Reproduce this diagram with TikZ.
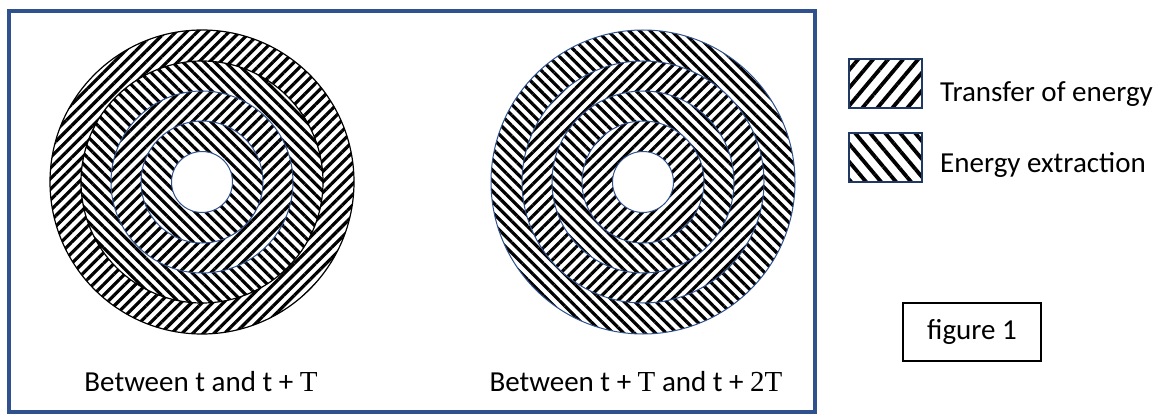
\documentclass[tikz,border=0pt]{standalone}
\usepackage{fontspec}
\setmainfont{Carlito}
\newfontfamily\serifT{Liberation Serif}
\usetikzlibrary{patterns.meta}
\definecolor{officeblue}{HTML}{2F528F}
\definecolor{navy}{HTML}{203864}
\tikzset{
  hatchNE/.style={pattern={Lines[angle=45,distance=7.5pt,line width=3.2pt]},pattern color=black},
  hatchNW/.style={pattern={Lines[angle=-45,distance=7.5pt,line width=3.2pt]},pattern color=black},
  keyNE/.style={pattern={Lines[angle=50,distance=11.5pt,line width=3.8pt]},pattern color=black},
  keyNW/.style={pattern={Lines[angle=-50,distance=11.5pt,line width=3.8pt]},pattern color=black},
  ringline/.style={draw=officeblue,line width=1pt},
  darkline/.style={draw=black,line width=1.2pt},
  lbl/.style={font=\fontsize{29}{34}\selectfont, inner sep=0pt},
  keybox/.style={draw=navy,line width=2pt,minimum width=73pt,minimum height=49pt,inner sep=0pt},
}
\begin{document}
\begin{tikzpicture}[x=1pt,y=-1pt]
\useasboundingbox (0,0) rectangle (1162,420);
\fill[white] (0,0) rectangle (1162,420);
\draw[officeblue, line width=3.5pt] (9,11) rectangle (815,412);

% left disc
\coordinate (L) at (202,182);
\fill[hatchNE, even odd rule] (L) circle[radius=152] (L) circle[radius=121];
\fill[hatchNW, even odd rule] (L) circle[radius=121] (L) circle[radius=91];
\fill[hatchNE, even odd rule] (L) circle[radius=91] (L) circle[radius=61];
\fill[hatchNW, even odd rule] (L) circle[radius=61] (L) circle[radius=30.5];
\draw[darkline] (L) circle[radius=152];
\draw[darkline] (L) circle[radius=121];
\draw[ringline] (L) circle[radius=91];
\draw[ringline] (L) circle[radius=61];
\draw[ringline] (L) circle[radius=30.5];

% right disc
\coordinate (R) at (643,182);
\fill[hatchNW, even odd rule] (R) circle[radius=152] (R) circle[radius=121];
\fill[hatchNE, even odd rule] (R) circle[radius=121] (R) circle[radius=91];
\fill[hatchNW, even odd rule] (R) circle[radius=91] (R) circle[radius=61];
\fill[hatchNE, even odd rule] (R) circle[radius=61] (R) circle[radius=30.5];
\draw[ringline] (R) circle[radius=152];
\draw[ringline] (R) circle[radius=121];
\draw[ringline] (R) circle[radius=91];
\draw[ringline] (R) circle[radius=61];
\draw[ringline] (R) circle[radius=30.5];

% captions
\node[lbl, anchor=base] (capL) at (201,391) {Between t and t + {\serifT T}};
\node[lbl, anchor=base] (capR) at (636,391) {Between t + {\serifT T} and t + {\serifT 2T}};

% legend
\node[keybox, keyNE] (k1) at (885.5,83.5) {};
\node[lbl, anchor=base west] (t1) at (940,102) {Transfer of energy};
\node[keybox, keyNW] (k2) at (885.5,157.5) {};
\node[lbl, anchor=base west] (t2) at (940,172) {Energy extraction};

% figure label
\node[lbl, draw=black, line width=1.5pt, minimum width=138pt, minimum height=58pt] (fig) at (972,332) {figure 1};
\end{tikzpicture}
\end{document}
